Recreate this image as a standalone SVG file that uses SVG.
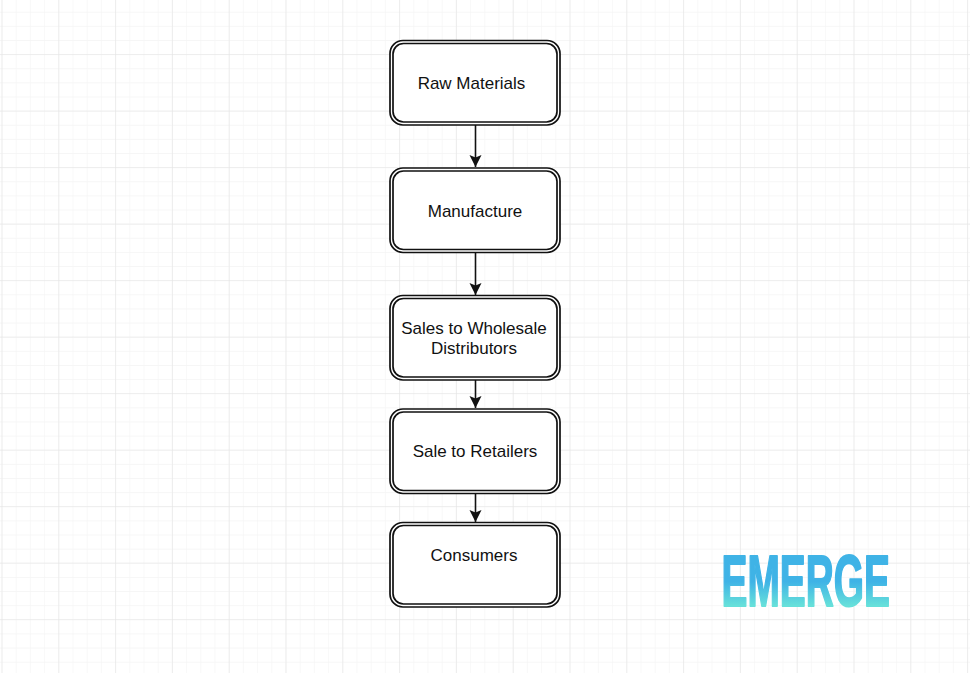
<svg xmlns="http://www.w3.org/2000/svg" width="970" height="673" viewBox="0 0 970 673">
<style>
.o{fill:#fff;stroke:#111;stroke-width:1.7}
.i{fill:#fff;stroke:#111;stroke-width:1.7}
.t{font-family:"Liberation Sans",Arial,sans-serif;font-size:17px;fill:#111;text-anchor:middle}
.c{fill:none;stroke:#111;stroke-width:1.6}
</style>
<defs>
<pattern id="minor" x="1.5" y="-2.4" width="14.2" height="14.13" patternUnits="userSpaceOnUse"><path d="M14.2 0H0V14.13" fill="none" stroke="#f4f4f4" stroke-width="1.2"/></pattern>
<pattern id="major" x="1.5" y="-2.4" width="56.8" height="56.5" patternUnits="userSpaceOnUse"><path d="M56.8 0H0V56.5" fill="none" stroke="#e4e4e4" stroke-width="1.2"/></pattern>
<linearGradient id="g" gradientUnits="userSpaceOnUse" x1="0" y1="-53" x2="0" y2="0"><stop offset="0" stop-color="#3fb3e6"/><stop offset=".55" stop-color="#3fb3e6"/><stop offset="1" stop-color="#66e0da"/></linearGradient>
<marker id="a" markerUnits="userSpaceOnUse" markerWidth="13" markerHeight="13" refX="12" refY="6.500" orient="auto"><path d="M0 .5L12 6.500L0 12.500L2.500 6.500Z" fill="#111"/></marker>
</defs>
<rect width="970" height="673" fill="#fff"/>
<rect width="970" height="673" fill="url(#minor)"/>
<rect width="970" height="673" fill="url(#major)"/>
<g id="connectors">
<path class="c" d="M475.500 125V167" marker-end="url(#a)"/>
<path class="c" d="M475.500 253V295" marker-end="url(#a)"/>
<path class="c" d="M475.500 380V408" marker-end="url(#a)"/>
<path class="c" d="M475.500 494V522" marker-end="url(#a)"/>
</g>
<g id="raw-materials"><rect class="o" x="390" y="40.500" width="170" height="84.500" rx="13"/><rect class="i" x="393" y="43.500" width="164" height="78.500" rx="10.500"/><text class="t" x="471.500" y="89">Raw Materials</text></g>
<g id="manufacture"><rect class="o" x="390" y="168" width="170" height="84.500" rx="13"/><rect class="i" x="393" y="171" width="164" height="78.500" rx="10.500"/><text class="t" x="475" y="216.500">Manufacture</text></g>
<g id="wholesale"><rect class="o" x="390" y="295.500" width="170" height="84.500" rx="13"/><rect class="i" x="393" y="298.500" width="164" height="78.500" rx="10.500"/><text class="t" x="474" y="334">Sales to Wholesale</text><text class="t" x="474" y="354">Distributors</text></g>
<g id="retailers"><rect class="o" x="390" y="409" width="170" height="84.500" rx="13"/><rect class="i" x="393" y="412" width="164" height="78.500" rx="10.500"/><text class="t" x="475" y="457">Sale to Retailers</text></g>
<g id="consumers"><rect class="o" x="390" y="522.500" width="170" height="84.500" rx="13"/><rect class="i" x="393" y="525.500" width="164" height="78.500" rx="10.500"/><text class="t" x="474" y="560.500">Consumers</text></g>
<g id="logo"><text transform="translate(721.500 605.500) scale(.54 1)" x="0" y="0" font-family="Liberation Sans,Arial,sans-serif" font-weight="700" font-size="72" fill="url(#g)" stroke="url(#g)" stroke-width="2" stroke-linejoin="round">EMERGE</text></g>
</svg>
